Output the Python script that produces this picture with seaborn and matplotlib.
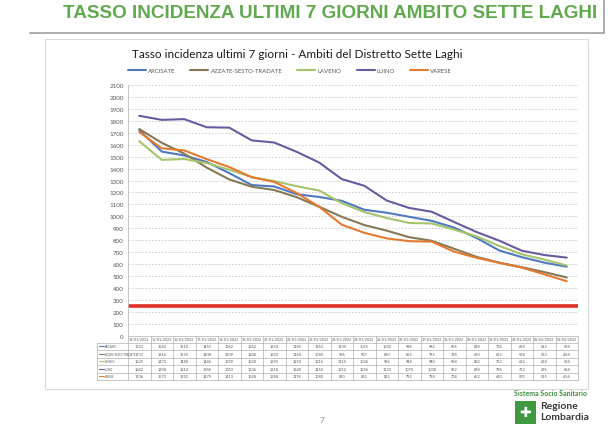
import numpy as np
import pandas as pd
import matplotlib.pyplot as plt
import matplotlib.transforms as mtransforms
from matplotlib.patches import Rectangle
import seaborn as sns

# data (7-day incidence per 100k)
dates = ['14/01/2022', '15/01/2022', '16/01/2022', '17/01/2022', '18/01/2022',
         '19/01/2022', '20/01/2022', '21/01/2022', '22/01/2022', '23/01/2022',
         '24/01/2022', '25/01/2022', '26/01/2022', '27/01/2022', '28/01/2022',
         '29/01/2022', '30/01/2022', '31/01/2022', '01/02/2022', '02/02/2022']
arcisate = [1722, 1542, 1510, 1455, 1362, 1262, 1250, 1185, 1162, 1130,
            1055, 1030, 996, 962, 905, 818, 714, 658, 612, 578]
azzate = [1731, 1616, 1525, 1408, 1309, 1248, 1220, 1160, 1080, 996,
          927, 880, 825, 795, 728, 660, 612, 574, 533, 488]
laveno = [1629, 1473, 1480, 1446, 1390, 1328, 1295, 1252, 1216, 1110,
          1036, 986, 944, 940, 888, 832, 752, 682, 638, 588]
luino = [1842, 1808, 1814, 1746, 1743, 1636, 1618, 1540, 1450, 1312,
         1256, 1132, 1070, 1038, 952, 868, 796, 712, 676, 654]
varese = [1706, 1570, 1552, 1479, 1413, 1328, 1288, 1195, 1080, 930,
          862, 815, 792, 788, 704, 652, 610, 570, 515, 456]
threshold = 250

series = {'ARCISATE': arcisate, 'AZZATE-SESTO-TRADATE': azzate,
          'LAVENO': laveno, 'LUINO': luino, 'VARESE': varese}
colors = {'ARCISATE': '#5079c0', 'AZZATE-SESTO-TRADATE': '#857a55',
          'LAVENO': '#a5c46c', 'LUINO': '#6a5a9e', 'VARESE': '#e57a32'}

rows = []
for name, vals in series.items():
    for i, v in enumerate(vals):
        rows.append({'ambito': name, 'idx': i, 'valore': v})
df = pd.DataFrame(rows)

sns.set_theme(style='white')
plt.rcParams['font.family'] = ['Lato', 'DejaVu Sans']

fig = plt.figure(figsize=(6.1, 4.31), dpi=100)
fig.patch.set_facecolor('white')

# slide header
fig.text(330/610, 1-14/431, 'TASSO INCIDENZA ULTIMI 7 GIORNI AMBITO SETTE LAGHI',
         ha='center', va='center', fontsize=13.6, fontweight='bold', color='#62a84f',
         family=['Liberation Sans'])
fig.add_artist(plt.Line2D([30/610, 604/610], [1-34/431, 1-34/431], color='#a0a0a0', lw=1.2))
fig.add_artist(plt.Line2D([604/610, 604/610], [1-34/431, 1.0], color='#a0a0a0', lw=1.2))

# chart box
fig.add_artist(Rectangle((45/610, 1-390/431), 543/610, 350/431, transform=fig.transFigure,
                         fill=False, edgecolor='#d9d9d9', lw=0.8))
fig.text(297/610, 1-55/431, 'Tasso incidenza ultimi 7 giorni - Ambiti del Distretto Sette Laghi',
         ha='center', va='center', fontsize=8.5, color='#1a1a1a')

ax = fig.add_axes([128/610, 1-336.7/431, 450/610, 250.7/431])
sns.lineplot(data=df, x='idx', y='valore', hue='ambito', palette=colors,
             linewidth=1.5, ax=ax)
ax.axhline(threshold, color='#e0302a', lw=2.6, zorder=1)

ax.set_xlim(-0.5, len(dates)-0.5)
ax.set_ylim(0, 2100)
ax.set_yticks(range(0, 2101, 100))
ax.tick_params(axis='y', labelsize=4.5, labelcolor='#595959', length=0, pad=3)
ax.set_xticks([])
ax.set_xlabel('')
ax.set_ylabel('')
ax.grid(axis='y', color='#c8c8c8', lw=0.6, ls=(0, (2, 2)))
for s in ['top', 'right', 'bottom']:
    ax.spines[s].set_visible(False)
ax.spines['left'].set_color('#bfbfbf')
ax.spines['left'].set_linewidth(0.6)

sns.move_legend(ax, 'center', bbox_to_anchor=(290/610, 1-71/431),
                bbox_transform=fig.transFigure, ncol=5, frameon=False, title=None,
                fontsize=4.3, handlelength=3, columnspacing=2.5, handletextpad=0.4)
for t in ax.get_legend().get_texts():
    t.set_color('#595959')

# data table under the plot
trans = mtransforms.blended_transform_factory(ax.transData, ax.transAxes)
px = 1/250.7
head_h = 7*px
row_h = 7.5*px
left = -0.5 - 31/22.5
right = len(dates)-0.5
bottom = -(head_h + 5*row_h)
lc = '#b0b0b0'
ax.plot([-0.5, right], [0, 0], transform=trans, color=lc, lw=0.5, clip_on=False)
for r in range(6):
    y = -head_h - r*row_h
    ax.plot([left, right], [y, y], transform=trans, color=lc, lw=0.5, clip_on=False)
ax.plot([left, left], [-head_h, bottom], transform=trans, color=lc, lw=0.5, clip_on=False)
for i in range(len(dates)+1):
    ax.plot([i-0.5, i-0.5], [0, bottom], transform=trans, color=lc, lw=0.5, clip_on=False)
for i, d in enumerate(dates):
    ax.text(i, -head_h/2, d, transform=trans, ha='center', va='center',
            fontsize=2.6, color='#595959', clip_on=False)
for r, (name, vals) in enumerate(series.items()):
    yc = -head_h - (r+0.5)*row_h
    ax.plot([left+0.08, left+0.3], [yc, yc], transform=trans, color=colors[name],
            lw=0.8, clip_on=False)
    ax.text(left+0.35, yc, name, transform=trans, ha='left', va='center',
            fontsize=1.9, color='#595959', clip_on=False)
    for i, v in enumerate(vals):
        ax.text(i, yc, str(v), transform=trans, ha='center', va='center',
                fontsize=2.8, color='#595959', clip_on=False)

# footer
fig.text(322/610, 1-421/431, '7', ha='center', va='center', fontsize=6, color='#909090')
fig.text(514/610, 1-394/431, 'Sistema Socio Sanitario', ha='left', va='center',
         fontsize=5, fontweight='bold', color='#3f8f3f')
fig.add_artist(Rectangle((515/610, 1-425/431), 21/610, 23/431, transform=fig.transFigure,
                         facecolor='#3f9a3f', edgecolor='none'))
fig.text(525.5/610, 1-413.5/431, '✚', ha='center', va='center', fontsize=10,
         color='white', family=['DejaVu Sans'])
fig.text(540/610, 1-407/431, 'Regione', ha='left', va='center', fontsize=7.5,
         fontweight='bold', color='#3a3a3a')
fig.text(540/610, 1-418/431, 'Lombardia', ha='left', va='center', fontsize=7.5,
         fontweight='bold', color='#3a3a3a')

fig.savefig('out.png', dpi=100, facecolor='white')
